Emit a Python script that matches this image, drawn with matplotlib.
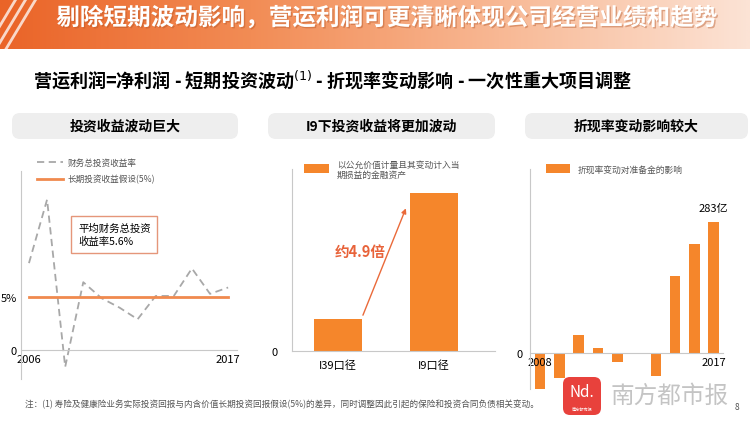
import numpy as np
import matplotlib
matplotlib.use("Agg")
import matplotlib.pyplot as plt
import matplotlib.patheffects as pe
from matplotlib.patches import FancyBboxPatch, Rectangle
from matplotlib.colors import LinearSegmentedColormap

plt.rcParams['font.family'] = ['Noto Sans CJK SC', 'DejaVu Sans']

# ---- data ----
years1 = np.arange(2006, 2018)
total_return = [8.2, 14.2, -1.6, 6.4, 4.9, 4.0, 2.9, 5.1, 5.1, 7.7, 5.3, 5.9]
assumed_return = 5.0

cats2 = ['I39口径', 'I9口径']
fvtpl = [1.0, 4.9]

years3 = np.arange(2008, 2018)
discount_impact = [-78, -54, 39, 11, -19, -1, -50, 166, 235, 283]

title = '剔除短期波动影响，营运利润可更清晰体现公司经营业绩和趋势'
subtitle = '营运利润=净利润 - 短期投资波动$^{(1)}$ - 折现率变动影响 - 一次性重大项目调整'
panel_titles = ['投资收益波动巨大', 'I9下投资收益将更加波动', '折现率变动影响较大']
footnote = '注：(1) 寿险及健康险业务实际投资回报与内含价值长期投资回报假设(5%)的差异，同时调整因此引起的保险和投资合同负债相关变动。'

ORANGE = '#F5862B'
LINE_OR = '#F08A4E'
GRAY = '#A8A8A8'
AXC = '#C8C8C8'

W, H = 750, 427
fig = plt.figure(figsize=(7.5, 4.27), dpi=100)


def pax(l, t, r, b):
    # pixel box -> figure axes
    return fig.add_axes([l / W, 1 - b / H, (r - l) / W, (b - t) / H])


bg = fig.add_axes([0, 0, 1, 1])
bg.set_xlim(0, W)
bg.set_ylim(H, 0)
bg.axis('off')

# header band
cmap = LinearSegmentedColormap.from_list('hdr', ['#EA6428', '#F28C55', '#F8B894', '#FCE3D5'])
grad = np.linspace(0, 1, 300).reshape(1, -1)
bg.imshow(grad, cmap=cmap, extent=[0, W, 50, 0], aspect='auto', zorder=0)
for x0 in (-14, -4, 6):
    bg.plot([x0, x0 + 30], [50, 0], color='white', lw=2, alpha=0.75, zorder=1)
bg.text(387, 19, title, color='white', fontsize=17, fontweight='bold',
        ha='center', va='center', zorder=2,
        path_effects=[pe.withSimplePatchShadow(offset=(1, -1), shadow_rgbFace='#B05020', alpha=0.4)])
bg.text(33, 80, subtitle, color='black', fontsize=13, fontweight='bold',
        ha='left', va='center')

# panel headers
for (l, r), t in zip([(12, 238), (268, 495), (525, 748)], panel_titles):
    bg.add_patch(FancyBboxPatch((l, 114), r - l, 26, boxstyle='round,pad=0,rounding_size=8',
                                fc='#EEEEEE', ec='none', zorder=1))
    bg.text((l + r) / 2, 127, t, fontsize=10, fontweight='bold', ha='center', va='center', zorder=2)

# ---- chart 1 ----
ax1 = pax(21, 172, 237, 380)
ax1.set_xlim(2005.56, 2017.49)
ax1.set_ylim(-2.74, 16.9)
ax1.plot(years1, total_return, color=GRAY, lw=1.3, ls=(0, (4, 2.5)))
ax1.plot([years1[0], years1[-1]], [assumed_return] * 2, color=LINE_OR, lw=2)
for s in ('top', 'right'):
    ax1.spines[s].set_visible(False)
ax1.spines['bottom'].set_position(('data', 0))
ax1.spines['bottom'].set_color(AXC)
ax1.spines['left'].set_color(AXC)
ax1.set_xticks([2006, 2017], ['2006', '2017'])
ax1.set_yticks([0, 5], ['0', '5%'])
ax1.tick_params(length=0, labelsize=8, pad=3)
ax1.patch.set_alpha(0)

bg.plot([37, 63], [163, 163], color=GRAY, lw=1.3, ls=(0, (4, 2.5)))
bg.text(68, 163, '财务总投资收益率', fontsize=6.2, color='#555555', va='center')
bg.plot([37, 63], [180, 180], color=LINE_OR, lw=2)
bg.text(68, 180, '长期投资收益假设(5%)', fontsize=6.2, color='#555555', va='center')
bg.add_patch(Rectangle((71, 217), 86, 37, fc='white', ec='#E5967A', lw=1, zorder=3))
bg.text(78, 235.5, '平均财务总投资\n收益率5.6%', fontsize=7.5, va='center', linespacing=1.3, zorder=4)

# ---- chart 2 ----
ax2 = pax(292, 170, 495, 352)
ax2.set_xlim(-0.48, 1.64)
ax2.set_ylim(0, 5.64)
ax2.bar(range(len(cats2)), fvtpl, width=0.5, color=ORANGE)
for s in ('top', 'right'):
    ax2.spines[s].set_visible(False)
ax2.spines['bottom'].set_color(AXC)
ax2.spines['left'].set_color(AXC)
ax2.set_xticks(range(len(cats2)), cats2)
ax2.set_yticks([0], ['0'])
ax2.tick_params(length=0, labelsize=8, pad=6)
ax2.tick_params(axis='y', pad=10)
ax2.patch.set_alpha(0)
ax2.annotate('', xy=(0.72, 4.5), xytext=(0.25, 1.03),
             arrowprops=dict(arrowstyle='-|>', color='#EA6A3A', lw=1, mutation_scale=7))
ax2.text(0.23, 3.1, '约4.9倍', color='#E8633A', fontsize=10.5, fontweight='bold', ha='center', va='center')

bg.add_patch(Rectangle((304, 165), 25, 9, fc=ORANGE, ec='none'))
bg.text(337, 170, '以公允价值计量且其变动计入当\n期损益的金融资产', fontsize=6.3, color='#555555',
        va='center', linespacing=1.15)

# ---- chart 3 ----
ax3 = pax(530, 170, 723, 390)
ax3.set_xlim(2007.48, 2017.48)
ax3.set_ylim(-78, 397)
ax3.bar(years3, discount_impact, width=0.55, color=ORANGE)
for s in ('top', 'right'):
    ax3.spines[s].set_visible(False)
ax3.spines['bottom'].set_position(('data', 0))
ax3.spines['bottom'].set_color(AXC)
ax3.spines['left'].set_color(AXC)
ax3.set_xticks([2008, 2017], ['2008', '2017'])
ax3.set_yticks([0], ['0'])
ax3.tick_params(length=0, labelsize=8, pad=3)
ax3.tick_params(axis='y', pad=5)
for lab in ax3.get_xticklabels():
    lab.set_zorder(5)
ax3.patch.set_alpha(0)
ax3.text(years3[-1], discount_impact[-1] + 18, '%d亿' % discount_impact[-1], fontsize=8,
         ha='center', va='bottom')

bg.add_patch(Rectangle((546, 165), 24, 9, fc=ORANGE, ec='none'))
bg.text(578, 170, '折现率变动对准备金的影响', fontsize=6.3, color='#555555', va='center')

# footer
bg.text(25, 405, footnote, fontsize=6.2, color='#555555', va='center')
bg.add_patch(FancyBboxPatch((563, 378), 38, 38, boxstyle='round,pad=0,rounding_size=7',
                            fc='#E8413C', ec='none', zorder=5))
bg.text(582, 393, 'Nd.', color='white', fontsize=11, style='italic', ha='center', va='center', zorder=6)
bg.text(582, 410, '南方都市报', color='white', fontsize=3, ha='center', va='center', zorder=6)
bg.text(670, 396, '南方都市报', color='#C4C4C4', fontsize=17, ha='center', va='center', zorder=6)
bg.text(737, 408, '8', color='#555555', fontsize=6, ha='center', va='center')

fig.savefig('out.png', dpi=100)
